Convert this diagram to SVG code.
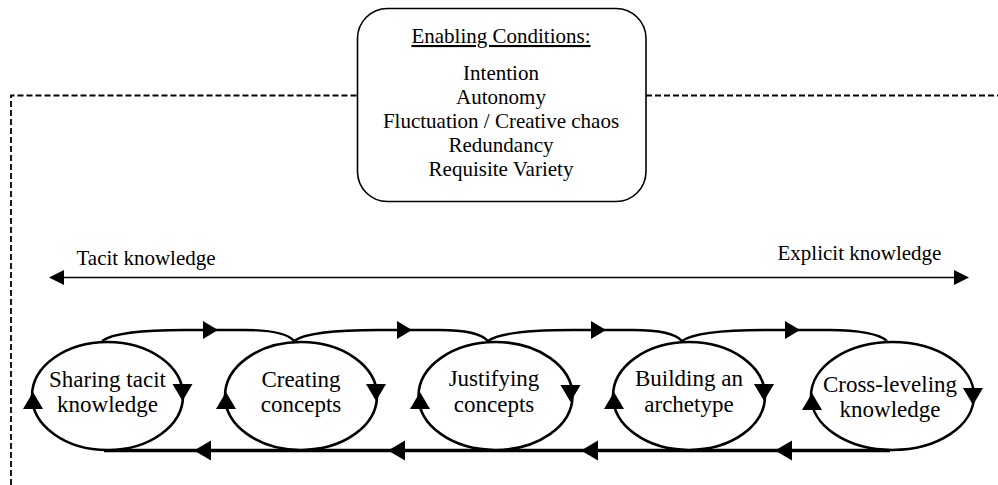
<svg xmlns="http://www.w3.org/2000/svg" width="998" height="485" viewBox="0 0 998 485">
  <defs>
    <style>
      text { font-family: "Liberation Serif", "Times New Roman", serif; fill: #000; text-anchor: middle; }
      .cond { font-size: 21px; }
      .lbl { font-size: 21px; }
      .phase { font-size: 23px; }
      .box { fill: #fff; stroke: #000; stroke-width: 1.6; }
      .oval { fill: #fff; stroke: #000; stroke-width: 2.6; }
      .dash { fill: none; stroke: #000; stroke-width: 1.8; stroke-dasharray: 6 3; }
      .arc { fill: none; stroke: #000; stroke-width: 2.4; }
      .base { fill: none; stroke: #000; stroke-width: 3.4; }
      .axis { fill: none; stroke: #000; stroke-width: 1.5; }
      .head { fill: #000; stroke: none; }
    </style>
    <!-- arrowheads, tip at the origin -->
    <path id="tipRight" d="M0,0 L-15,-9 L-15,9 Z"/>
    <path id="tipLeft" d="M0,0 L17,-10 L17,10 Z"/>
    <path id="tipDown" d="M0,0 L-10,-17 L10,-17 Z"/>
    <path id="tipUp" d="M0,0 L-10,17 L10,17 Z"/>
    <path id="axisTip" d="M0,0 L-15,-7.5 L-15,7.5 Z"/>
  </defs>

  <rect x="0" y="0" width="998" height="485" fill="#fff"/>

  <!-- organisational boundary -->
  <g id="boundary">
    <path class="dash" d="M11,485 L11,95.5 L357,95.5"/>
    <path class="dash" d="M646,95.5 L998,95.5"/>
  </g>

  <!-- enabling conditions -->
  <g id="enabling-conditions">
    <rect class="box" x="357.5" y="8.5" width="288.5" height="193" rx="30" ry="30"/>
    <text class="cond" x="501" y="43" text-decoration="underline">Enabling Conditions:</text>
    <text class="cond" x="501" y="80">Intention</text>
    <text class="cond" x="501" y="104">Autonomy</text>
    <text class="cond" x="501" y="128">Fluctuation / Creative chaos</text>
    <text class="cond" x="501" y="152">Redundancy</text>
    <text class="cond" x="501" y="176">Requisite Variety</text>
  </g>

  <!-- tacit / explicit axis -->
  <g id="knowledge-axis">
    <line class="axis" x1="55" y1="277.5" x2="962" y2="277.5"/>
    <use href="#axisTip" class="head" transform="translate(49,277.5) rotate(180)"/>
    <use href="#axisTip" class="head" transform="translate(969,277.5)"/>
    <text class="lbl" x="146" y="265">Tacit knowledge</text>
    <text class="lbl" x="859.5" y="260">Explicit knowledge</text>
  </g>

  <!-- flow between the phases -->
  <g id="connectors">
    <path class="arc" d="M102,341 C114,332 150,330 185,330 L245,330 C270,330 288,334 294,341"/>
    <path class="arc" d="M294,341 C306,332 344,330 379,330 L439,330 C464,330 482,334 488,341"/>
    <path class="arc" d="M488,341 C500,332 538,330 573,330 L633,330 C658,330 676,334 682,341"/>
    <path class="arc" d="M682,341 C694,332 732,330 767,330 L830,330 C858,330 880,334 887,341"/>
    <use href="#tipRight" class="head" x="218" y="330"/>
    <use href="#tipRight" class="head" x="412" y="330"/>
    <use href="#tipRight" class="head" x="606" y="330"/>
    <use href="#tipRight" class="head" x="800" y="330"/>

    <line class="base" x1="104" y1="450.5" x2="890" y2="450.5"/>
    <use href="#tipLeft" class="head" x="194" y="450.5"/>
    <use href="#tipLeft" class="head" x="388" y="450.5"/>
    <use href="#tipLeft" class="head" x="581" y="450.5"/>
    <use href="#tipLeft" class="head" x="775" y="450.5"/>
  </g>

  <!-- phases -->
  <g id="phase-sharing">
    <ellipse class="oval" cx="107.5" cy="396" rx="75.5" ry="54"/>
    <use href="#tipDown" class="head" x="182.5" y="401"/>
    <use href="#tipUp" class="head" x="33" y="392"/>
    <text class="phase" x="107.5" y="387">Sharing tacit</text>
    <text class="phase" x="107.5" y="412">knowledge</text>
  </g>

  <g id="phase-creating">
    <ellipse class="oval" cx="301" cy="396" rx="76" ry="54"/>
    <use href="#tipDown" class="head" x="376" y="401"/>
    <use href="#tipUp" class="head" x="226" y="392"/>
    <text class="phase" x="301" y="387">Creating</text>
    <text class="phase" x="301" y="412">concepts</text>
  </g>

  <g id="phase-justifying">
    <ellipse class="oval" cx="495.5" cy="396" rx="77" ry="54"/>
    <use href="#tipDown" class="head" x="570.5" y="402"/>
    <use href="#tipUp" class="head" x="420" y="392"/>
    <text class="phase" x="494" y="386">Justifying</text>
    <text class="phase" x="494" y="412">concepts</text>
  </g>

  <g id="phase-building">
    <ellipse class="oval" cx="689" cy="396" rx="76" ry="54"/>
    <use href="#tipDown" class="head" x="764" y="401"/>
    <use href="#tipUp" class="head" x="614" y="392"/>
    <text class="phase" x="689" y="386">Building an</text>
    <text class="phase" x="689" y="412">archetype</text>
  </g>

  <g id="phase-cross-leveling">
    <ellipse class="oval" cx="892.5" cy="396" rx="81.5" ry="54"/>
    <use href="#tipDown" class="head" x="973" y="405"/>
    <use href="#tipUp" class="head" x="812" y="393"/>
    <text class="phase" x="890" y="392">Cross-leveling</text>
    <text class="phase" x="890" y="417">knowledge</text>
  </g>
</svg>
